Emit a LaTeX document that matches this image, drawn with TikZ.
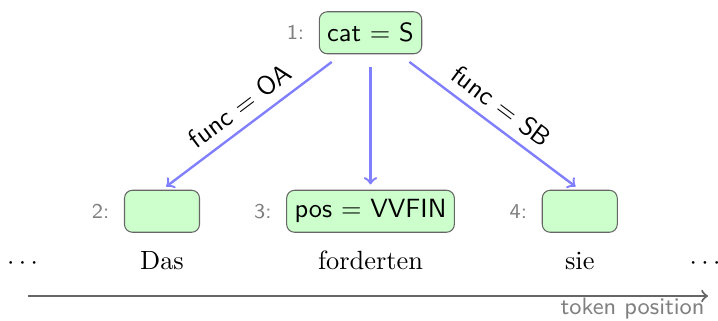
\documentclass[tikz,border=0pt]{standalone}
\usepackage{tikz}
\usetikzlibrary{positioning}

\begin{document}
\begin{tikzpicture}[
		fbox/.style={draw=black!60, fill=green!20, rounded corners=3pt, inner sep=3pt, minimum width=1cm, minimum height=0.56cm, font=\sffamily},
		idx/.style={text=black!50, font=\footnotesize\sffamily},
		word/.style={text height=1.5ex, text depth=.25ex},
		dep/.style={->, draw=blue!50, line width=0.9pt, shorten <=0.17cm, shorten >=0.07cm},
		deplabel/.style={midway, sloped, above, font=\sffamily, inner sep=3.5pt}
	]
				\useasboundingbox (0,0) rectangle (9.573,4.267);
				
				\node[fbox, label={[idx, label distance=2pt]left:1:}] (cat) at (4.94,3.83) {cat $=$ S};
				
				\node[fbox, label={[idx, label distance=2pt]left:2:}] (das) at (2.16,1.45) {};
				\node[fbox, label={[idx, label distance=2pt]left:3:}] (vvfin) at (4.94,1.45) {pos $=$ VVFIN};
				\node[fbox, label={[idx, label distance=2pt]left:4:}] (sie) at (7.73,1.45) {};
				
				\node[word] (w2) at (2.16,0.77) {Das};
				\node[word] (w3) at (4.94,0.77) {forderten};
				\node[word] (w4) at (7.73,0.77) {sie};
				\node[word] (ldots) at (0.3,0.77) {$\cdots$};
				\node[word] (rdots) at (9.4,0.77) {$\cdots$};
				
				\draw[dep] (cat) -- (das.north) node[deplabel] {func $=$ OA};
				\draw[dep] (cat) -- (vvfin.north);
				\draw[dep] (cat) -- (sie.north) node[deplabel] {func $=$ SB};
				
				\coordinate (axstart) at (0.37,0.32);
				\coordinate (axend) at (9.44,0.32);
				\draw[->, black!60, line width=0.8pt] (axstart) -- (axend);
				\node[idx, font=\small\sffamily, anchor=base east, inner sep=0pt] (axlabel) at (9.4,0.07) {token position};
			\end{tikzpicture}
\end{document}
